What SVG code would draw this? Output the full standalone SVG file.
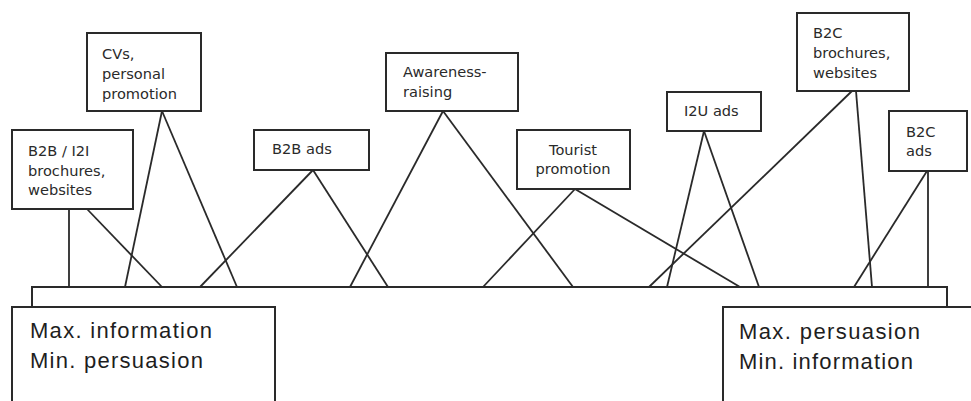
<svg xmlns="http://www.w3.org/2000/svg" width="971" height="401" viewBox="0 0 971 401">
<style>
.box{fill:#fff;stroke:#2a2a2a;stroke-width:2}
.t{font-family:"DejaVu Sans",Verdana,sans-serif;font-size:14.6px;fill:#2a2a2a}
.big{font-family:"Liberation Sans",Arial,sans-serif;font-size:22px;fill:#1e1e1e}
.c line{stroke:#2a2a2a;stroke-width:1.8}
</style>
<rect width="971" height="401" fill="#fff"/>
<g id="bar"><path d="M32,308 V287 H947 V308" fill="none" stroke="#2a2a2a" stroke-width="2"/></g>
<g class="c" id="connectors">
<line x1="69" y1="209" x2="69" y2="287"/>
<line x1="87" y1="209" x2="162" y2="287"/>
<line x1="162" y1="111" x2="125" y2="287"/>
<line x1="162" y1="111" x2="237" y2="287"/>
<line x1="313" y1="170" x2="200" y2="287"/>
<line x1="313" y1="170" x2="388" y2="287"/>
<line x1="443" y1="111" x2="350" y2="287"/>
<line x1="443" y1="111" x2="573" y2="287"/>
<line x1="575" y1="189" x2="483" y2="287"/>
<line x1="575" y1="189" x2="740" y2="287"/>
<line x1="704" y1="131" x2="667" y2="287"/>
<line x1="704" y1="131" x2="759" y2="287"/>
<line x1="852" y1="91" x2="649" y2="287"/>
<line x1="856" y1="91" x2="872" y2="287"/>
<line x1="927" y1="171" x2="854" y2="287"/>
<line x1="928" y1="171" x2="928" y2="287"/>
</g>
<g id="b2b-i2i"><rect class="box" x="12" y="130" width="121" height="79"/>
<text class="t" x="28" y="156">B2B / I2I</text><text class="t" x="28" y="176">brochures,</text><text class="t" x="28" y="195">websites</text></g>
<g id="cvs"><rect class="box" x="87" y="33" width="114" height="78"/>
<text class="t" x="102" y="59">CVs,</text><text class="t" x="102" y="79">personal</text><text class="t" x="102" y="99">promotion</text></g>
<g id="b2b-ads"><rect class="box" x="254" y="130" width="115" height="40"/>
<text class="t" x="272" y="154">B2B ads</text></g>
<g id="awareness"><rect class="box" x="386" y="53" width="132" height="58"/>
<text class="t" x="403" y="77">Awareness-</text><text class="t" x="403" y="97">raising</text></g>
<g id="tourist"><rect class="box" x="517" y="130" width="113" height="59"/>
<text class="t" x="573" y="155" text-anchor="middle">Tourist</text><text class="t" x="573" y="174" text-anchor="middle">promotion</text></g>
<g id="i2u-ads"><rect class="box" x="667" y="92" width="94" height="39"/>
<text class="t" x="684" y="116">I2U ads</text></g>
<g id="b2c-brochures"><rect class="box" x="797" y="13" width="112" height="78"/>
<text class="t" x="813" y="38">B2C</text><text class="t" x="813" y="58">brochures,</text><text class="t" x="813" y="78">websites</text></g>
<g id="b2c-ads"><rect class="box" x="889" y="111" width="78" height="60"/>
<text class="t" x="906" y="137">B2C</text><text class="t" x="906" y="156">ads</text></g>
<g id="max-information"><rect class="box" x="12" y="307" width="263" height="110"/>
<text class="big" x="30" y="338" textLength="182" lengthAdjust="spacing">Max. information</text>
<text class="big" x="30" y="368" textLength="173" lengthAdjust="spacing">Min. persuasion</text></g>
<g id="max-persuasion"><rect class="box" x="723" y="307" width="260" height="110"/>
<text class="big" x="739" y="339" textLength="181" lengthAdjust="spacing">Max. persuasion</text>
<text class="big" x="739" y="369" textLength="174" lengthAdjust="spacing">Min. information</text></g>
</svg>
